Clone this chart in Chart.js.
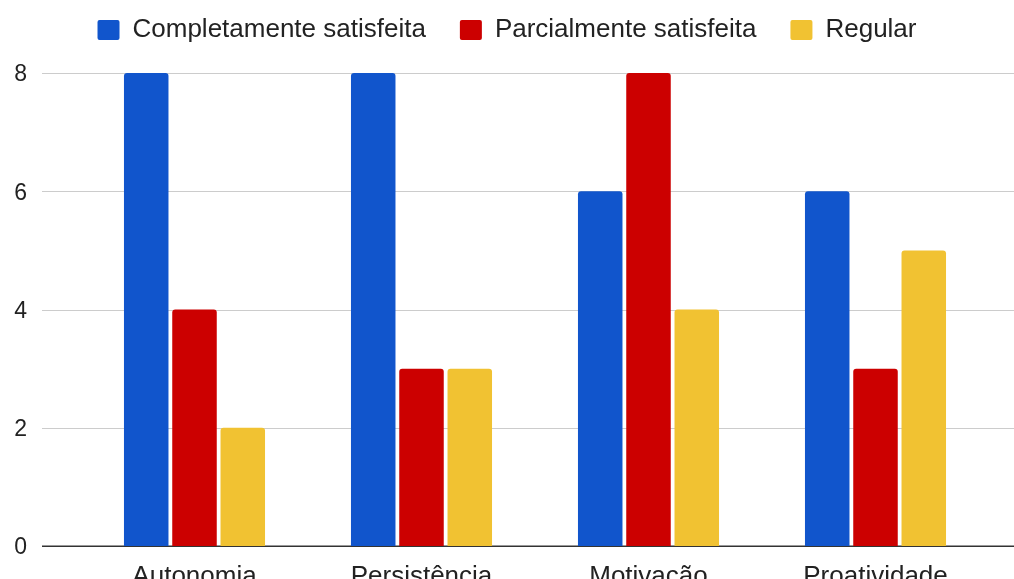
<!DOCTYPE html>
<html lang="pt">
<head>
<meta charset="utf-8">
<title>Satisfação por competência</title>
<script src="https://cdn.jsdelivr.net/npm/chart.js@4/dist/chart.umd.min.js"></script>
<style>
  html, body { margin: 0; padding: 0; background: #ffffff; }
  #wrap { width: 1014px; height: 579px; position: relative; }
</style>
</head>
<body>
<div id="wrap"><canvas id="chart"></canvas></div>
<script>
// Categorias e valores de cada série
const categories = ['Autonomia', 'Persistência', 'Motivação', 'Proatividade'];
const seriesNames = ['Completamente satisfeita', 'Parcialmente satisfeita', 'Regular'];
const completamente = [8, 8, 6, 6];
const parcialmente = [4, 3, 8, 3];
const regular = [2, 3, 4, 5];
const yTicks = [0, 2, 4, 6, 8];

const colors = ['#1155cc', '#cc0000', '#f1c232'];
const FONT = '"Liberation Sans", Arial, Helvetica, sans-serif';
const TEXT = '#222222';

// Linhas de grade horizontais que se estendem além da área das barras
const wideGrid = {
  id: 'wideGrid',
  beforeDatasetsDraw(chart) {
    const y = chart.scales.y;
    const ctx = chart.ctx;
    ctx.save();
    yTicks.forEach(v => {
      const py = Math.round(y.getPixelForValue(v));
      ctx.beginPath();
      if (v === 0) {
        ctx.strokeStyle = '#333333';
        ctx.lineWidth = 1.5;
        ctx.moveTo(42, py + 0.25);
        ctx.lineTo(1014, py + 0.25);
      } else {
        ctx.strokeStyle = '#cccccc';
        ctx.lineWidth = 1.2;
        ctx.moveTo(42, py + 0.5);
        ctx.lineTo(1014, py + 0.5);
      }
      ctx.stroke();
    });
    ctx.restore();
  }
};

const radius = { topLeft: 3, topRight: 3, bottomLeft: 0, bottomRight: 0 };
const seriesValues = [completamente, parcialmente, regular];

new Chart(document.getElementById('chart'), {
  type: 'bar',
  data: {
    labels: categories,
    datasets: seriesNames.map((name, i) => ({
      label: name,
      data: seriesValues[i],
      backgroundColor: colors[i],
      borderRadius: radius,
      borderSkipped: 'start',
      categoryPercentage: 0.638,
      barPercentage: 0.922
    }))
  },
  options: {
    responsive: true,
    maintainAspectRatio: false,
    animation: false,
    layout: { padding: { top: -17, right: 0, bottom: 0, left: 0 } },
    plugins: {
      tooltip: { enabled: false },
      // faixa vazia entre a legenda e a área do gráfico
      title: {
        display: true,
        text: '',
        weight: 500,
        padding: 0,
        font: { size: 20, lineHeight: 1 }
      },
      legend: {
        position: 'top',
        align: 'center',
        labels: {
          boxWidth: 22,
          boxHeight: 20,
          padding: 34,
          color: TEXT,
          font: { family: FONT, size: 26 },
          generateLabels(chart) {
            return chart.data.datasets.map((ds, i) => ({
              text: ds.label,
              fillStyle: ds.backgroundColor,
              strokeStyle: ds.backgroundColor,
              lineWidth: 0,
              borderRadius: 2,
              datasetIndex: i,
              fontColor: TEXT
            }));
          }
        }
      }
    },
    scales: {
      x: {
        grid: { display: false },
        border: { display: false },
        ticks: {
          color: TEXT,
          font: { family: FONT, size: 26 },
          padding: 7,
          maxRotation: 0,
          autoSkip: false
        },
        afterFit(scale) {
          scale.height = 33;
          scale.paddingLeft = 0;
          scale.paddingRight = 25;
        }
      },
      y: {
        min: 0,
        max: 8,
        grid: { display: false, drawTicks: false },
        border: { display: false },
        ticks: {
          stepSize: 2,
          color: TEXT,
          font: { family: FONT, size: 23 },
          padding: 54,
          labelOffset: 2
        },
        afterFit(scale) {
          scale.width = 81;
          scale.paddingTop = 0;
          scale.paddingBottom = 0;
        }
      }
    }
  },
  plugins: [wideGrid]
});
</script>
</body>
</html>
